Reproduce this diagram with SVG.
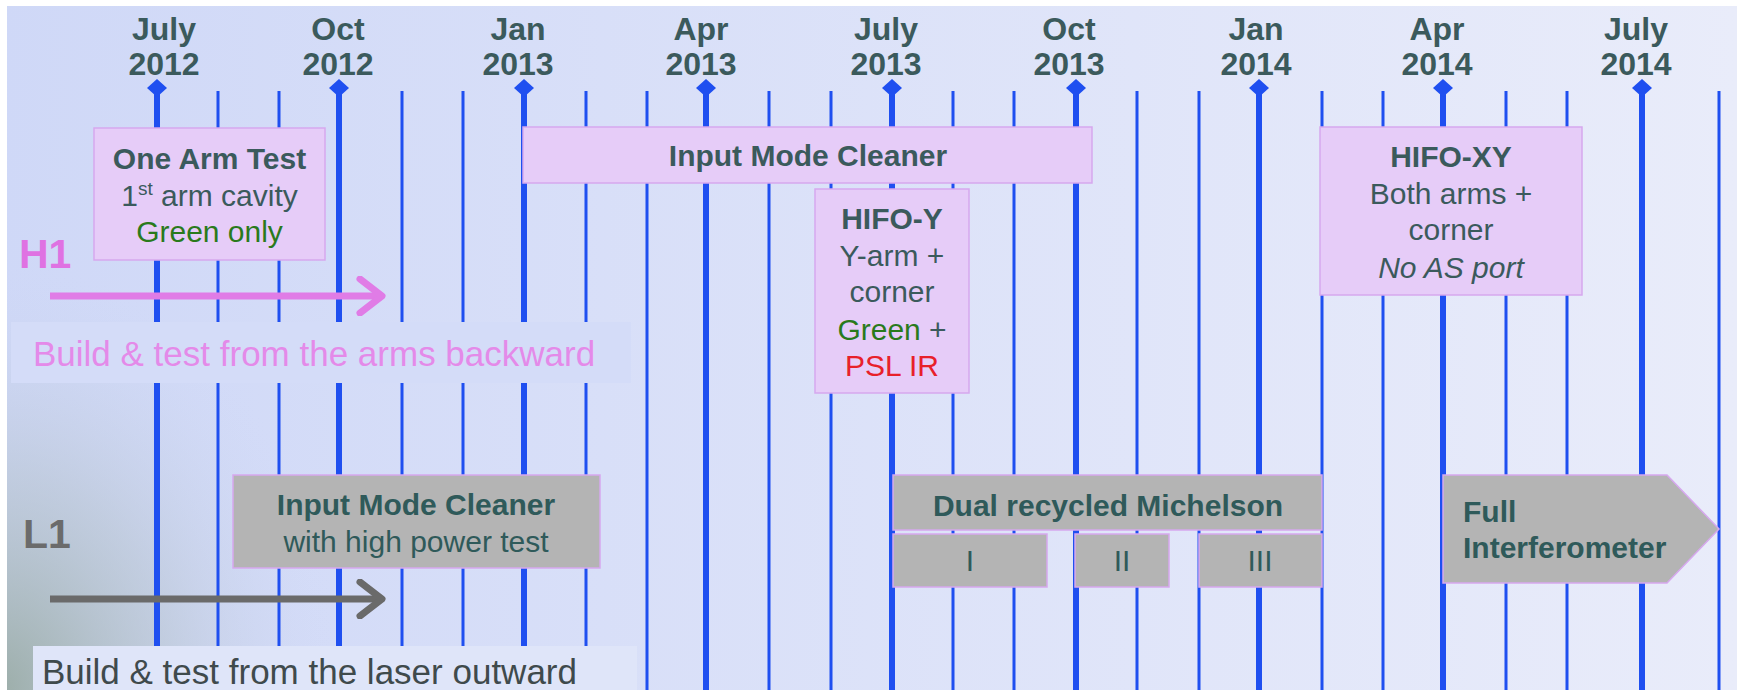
<svg xmlns="http://www.w3.org/2000/svg" width="1737" height="690" viewBox="0 0 1737 690">
<defs>
<linearGradient id="bg" x1="0" y1="0" x2="1" y2="0">
<stop offset="0" stop-color="#cfd8f7"/>
<stop offset="1" stop-color="#e9ecfa"/>
</linearGradient>
<radialGradient id="corner" cx="0" cy="1" r="1">
<stop offset="0" stop-color="#93a69b" stop-opacity="0.85"/>
<stop offset="0.5" stop-color="#abbabd" stop-opacity="0.4"/>
<stop offset="1" stop-color="#cfd8f7" stop-opacity="0"/>
</radialGradient>
<marker id="headPink" markerUnits="userSpaceOnUse" markerWidth="40" markerHeight="40" refX="30" refY="20" orient="auto">
<polyline points="8,3 30,20 8,37" fill="none" stroke="#e07ce6" stroke-width="7" stroke-linecap="round" stroke-linejoin="round"/>
</marker>
<marker id="headGray" markerUnits="userSpaceOnUse" markerWidth="40" markerHeight="40" refX="30" refY="20" orient="auto">
<polyline points="8,3 30,20 8,37" fill="none" stroke="#6a6a6a" stroke-width="7" stroke-linecap="round" stroke-linejoin="round"/>
</marker>
<path id="dia" d="M0,-9 L10,0 L0,9 L-10,0 Z"/>
</defs>
<style>
.thick{stroke:#1f4ff0;stroke-width:6}
.thin{stroke:#1f4ff0;stroke-width:3}
.month{font-family:"Liberation Sans",Arial,sans-serif;font-weight:bold;font-size:32px;fill:#3b5a5c;text-anchor:middle}
.pbox{fill:#e6ccf8;stroke:#d6a8ee;stroke-width:1.5}
.gbox{fill:#b4b4b4;stroke:#d6a8ee;stroke-width:1.5}
.t{font-family:"Liberation Sans",Arial,sans-serif;font-size:30px;fill:#3b5a5c;text-anchor:middle}
.b{font-weight:bold}
.gtxt{fill:#2f5a5a}
.start{text-anchor:start}
.green{fill:#2a7a1c}
.red{fill:#e8202a}
.it{font-style:italic}
</style>
<rect x="0" y="0" width="1737" height="690" fill="url(#bg)"/>
<rect x="0" y="260" width="340" height="430" fill="url(#corner)"/>
<rect x="0" y="0" width="1737" height="6" fill="#ffffff"/>
<rect x="0" y="0" width="7" height="690" fill="#ffffff"/>

<g id="timeline">
<g id="months">
<text class="month" x="164" y="40">July</text><text class="month" x="164" y="75">2012</text>
<text class="month" x="338" y="40">Oct</text><text class="month" x="338" y="75">2012</text>
<text class="month" x="518" y="40">Jan</text><text class="month" x="518" y="75">2013</text>
<text class="month" x="701" y="40">Apr</text><text class="month" x="701" y="75">2013</text>
<text class="month" x="886" y="40">July</text><text class="month" x="886" y="75">2013</text>
<text class="month" x="1069" y="40">Oct</text><text class="month" x="1069" y="75">2013</text>
<text class="month" x="1256" y="40">Jan</text><text class="month" x="1256" y="75">2014</text>
<text class="month" x="1437" y="40">Apr</text><text class="month" x="1437" y="75">2014</text>
<text class="month" x="1636" y="40">July</text><text class="month" x="1636" y="75">2014</text>
</g>
<g id="gridlines">
<line class="thick" x1="157" y1="90" x2="157" y2="690"/>
<line class="thick" x1="339" y1="90" x2="339" y2="690"/>
<line class="thick" x1="524" y1="90" x2="524" y2="690"/>
<line class="thick" x1="706" y1="90" x2="706" y2="690"/>
<line class="thick" x1="892" y1="90" x2="892" y2="690"/>
<line class="thick" x1="1076" y1="90" x2="1076" y2="690"/>
<line class="thick" x1="1259" y1="90" x2="1259" y2="690"/>
<line class="thick" x1="1443" y1="90" x2="1443" y2="690"/>
<line class="thick" x1="1642" y1="90" x2="1642" y2="690"/>
<g fill="#1f4ff0">
<use href="#dia" x="157" y="88"/><use href="#dia" x="339" y="88"/><use href="#dia" x="524" y="88"/>
<use href="#dia" x="706" y="88"/><use href="#dia" x="892" y="88"/><use href="#dia" x="1076" y="88"/>
<use href="#dia" x="1259" y="88"/><use href="#dia" x="1443" y="88"/><use href="#dia" x="1642" y="88"/>
</g>
<line class="thin" x1="218" y1="91" x2="218" y2="690"/>
<line class="thin" x1="279" y1="91" x2="279" y2="690"/>
<line class="thin" x1="402" y1="91" x2="402" y2="690"/>
<line class="thin" x1="463" y1="91" x2="463" y2="690"/>
<line class="thin" x1="586" y1="91" x2="586" y2="690"/>
<line class="thin" x1="647" y1="91" x2="647" y2="690"/>
<line class="thin" x1="769" y1="91" x2="769" y2="690"/>
<line class="thin" x1="831" y1="91" x2="831" y2="690"/>
<line class="thin" x1="953" y1="91" x2="953" y2="690"/>
<line class="thin" x1="1014" y1="91" x2="1014" y2="690"/>
<line class="thin" x1="1137" y1="91" x2="1137" y2="690"/>
<line class="thin" x1="1199" y1="91" x2="1199" y2="690"/>
<line class="thin" x1="1322" y1="91" x2="1322" y2="690"/>
<line class="thin" x1="1383" y1="91" x2="1383" y2="690"/>
<line class="thin" x1="1506" y1="91" x2="1506" y2="690"/>
<line class="thin" x1="1567" y1="91" x2="1567" y2="690"/>
<line class="thin" x1="1719" y1="91" x2="1719" y2="690"/>
</g>
</g>

<g id="h1-caption">
<rect x="11" y="322" width="620" height="61" fill="#d4dcf8"/>
<text x="33" y="366" font-family="Liberation Sans, Arial, sans-serif" font-size="35" fill="#e48ae9">Build &amp; test from the arms backward</text>
</g>
<g id="l1-caption">
<rect x="33" y="646" width="604" height="44" fill="#dfe5f9"/>
<text x="42" y="684" font-family="Liberation Sans, Arial, sans-serif" font-size="35" fill="#3f4a4c">Build &amp; test from the laser outward</text>
</g>

<g id="h1-label"><text x="19" y="268" font-family="Liberation Sans, Arial, sans-serif" font-weight="bold" font-size="41" fill="#df72e2">H1</text></g>
<g id="l1-label"><text x="23" y="548" font-family="Liberation Sans, Arial, sans-serif" font-weight="bold" font-size="41" fill="#6b6b6b">L1</text></g>

<g id="connectors">
<line x1="50" y1="296" x2="382" y2="296" stroke="#e07ce6" stroke-width="7" marker-end="url(#headPink)"/>
<line x1="50" y1="599" x2="382" y2="599" stroke="#6a6a6a" stroke-width="7" marker-end="url(#headGray)"/>
</g>

<g id="one-arm-test">
<rect class="pbox" x="94" y="128" width="231" height="132"/>
<text class="t b" x="209.5" y="169">One Arm Test</text>
<text class="t" x="209.5" y="206">1<tspan font-size="19" dy="-11">st</tspan><tspan dy="11"> arm cavity</tspan></text>
<text class="t green" x="209.5" y="242">Green only</text>
</g>

<g id="h1-imc">
<rect class="pbox" x="523" y="127" width="569" height="56"/>
<text class="t b" x="808" y="166">Input Mode Cleaner</text>
</g>

<g id="hifo-y">
<rect class="pbox" x="815" y="189" width="154" height="204"/>
<text class="t b" x="892" y="229">HIFO-Y</text>
<text class="t" x="892" y="266">Y-arm +</text>
<text class="t" x="892" y="302">corner</text>
<text class="t" x="892" y="340"><tspan class="green">Green</tspan> +</text>
<text class="t red" x="892" y="376">PSL IR</text>
</g>

<g id="hifo-xy">
<rect class="pbox" x="1320" y="127" width="262" height="168"/>
<text class="t b" x="1451" y="167">HIFO-XY</text>
<text class="t" x="1451" y="204">Both arms +</text>
<text class="t" x="1451" y="240">corner</text>
<text class="t it" x="1451" y="278">No AS port</text>
</g>

<g id="l1-imc">
<rect class="gbox" x="233" y="475" width="367" height="93"/>
<text class="t b gtxt" x="416" y="515">Input Mode Cleaner</text>
<text class="t gtxt" x="416" y="552">with high power test</text>
</g>

<g id="drmi">
<rect class="gbox" x="893" y="475" width="429" height="55"/>
<text class="t b gtxt" x="1108" y="516">Dual recycled Michelson</text>
</g>
<g id="drmi-1">
<rect class="gbox" x="893" y="534" width="154" height="53"/>
<text class="t gtxt" x="970" y="571">I</text>
</g>
<g id="drmi-2">
<rect class="gbox" x="1075" y="534" width="94" height="53"/>
<text class="t gtxt" x="1122" y="571">II</text>
</g>
<g id="drmi-3">
<rect class="gbox" x="1199" y="534" width="123" height="53"/>
<text class="t gtxt" x="1260" y="571">III</text>
</g>

<g id="full-ifo">
<polygon class="gbox" points="1443,475 1667,475 1719,529 1667,583 1443,583"/>
<text class="t b gtxt start" x="1463" y="522">Full</text>
<text class="t b gtxt start" x="1463" y="558">Interferometer</text>
</g>
</svg>
